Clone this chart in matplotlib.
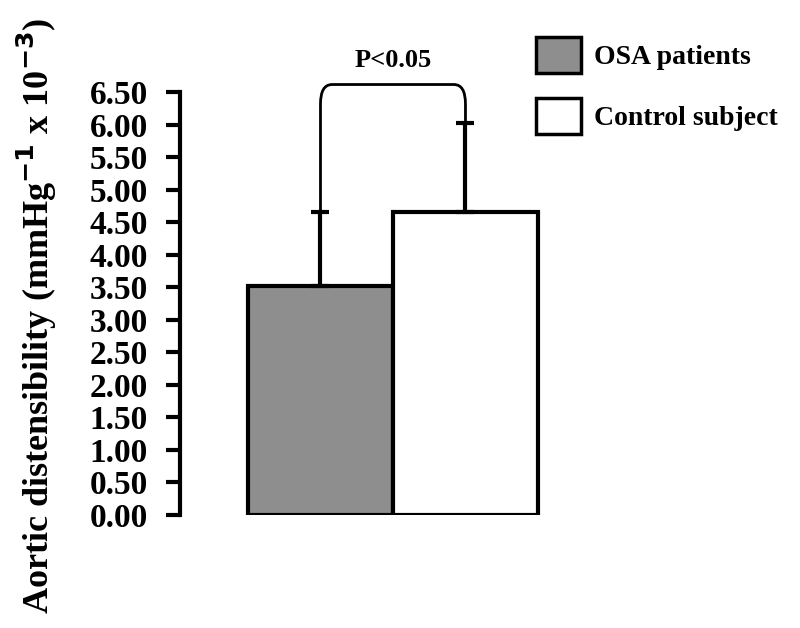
import matplotlib.pyplot as plt
import numpy as np
from matplotlib.path import Path
from matplotlib.patches import PathPatch

plt.rcParams['font.family'] = ['Liberation Serif', 'DejaVu Serif']
plt.rcParams['font.weight'] = 'bold'
plt.rcParams['mathtext.default'] = 'bf'

# Data
groups = ["OSA patients", "Control subject"]
means = [3.52, 4.66]
errors = [1.14, 1.37]
colors = ['#8e8e8e', 'white']
y_ticks = np.arange(0, 6.51, 0.5)
p_text = "P<0.05"

fig = plt.figure(figsize=(8, 6.28), dpi=100)
ax = fig.add_axes([180/800, 1 - 515/628, (560-180)/800, (515-92)/628])

x = np.arange(len(groups))
bars = ax.bar(x, means, width=1.0, color=colors, edgecolor='black', linewidth=3,
              label=groups, zorder=2)
ax.errorbar(x, means, yerr=[[0, 0], errors], fmt='none', ecolor='black',
            elinewidth=3, capsize=6.5, capthick=3, zorder=3)

ax.set_xlim(-0.969, 1.652)
ax.set_ylim(0, 6.5)
ax.set_yticks(y_ticks)
ax.set_yticklabels([f'{v:.2f}' for v in y_ticks], fontsize=24, fontweight='bold')
ax.tick_params(axis='y', direction='out', length=10, width=3, pad=13)
ax.set_xticks([])
for s in ['top', 'right', 'bottom']:
    ax.spines[s].set_visible(False)
ax.spines['left'].set_linewidth(3)

fig.text(37/800, 1 - 316/628, r'Aortic distensibility (mmHg$^{-1}$ x 10$^{-3}$)',
         fontsize=26, fontweight='bold', rotation=90, ha='center', va='center')

# significance bracket with rounded corners
top = 6.615
rx, ry = 0.08, 0.3
y0 = means[0] + errors[0]
y1 = means[1] + errors[1]
verts = [(x[0], y0), (x[0], top - ry), (x[0], top), (x[0] + rx, top),
         (x[1] - rx, top), (x[1], top), (x[1], top - ry), (x[1], y1)]
codes = [Path.MOVETO, Path.LINETO, Path.CURVE3, Path.CURVE3,
         Path.LINETO, Path.CURVE3, Path.CURVE3, Path.LINETO]
ax.add_patch(PathPatch(Path(verts, codes), fill=False, lw=2, edgecolor='black',
                       clip_on=False))
ax.text(0.5, 6.98, p_text, ha='center', va='center', fontsize=19,
        fontweight='bold', clip_on=False)

leg = ax.legend(loc='upper left', bbox_to_anchor=(536/800, 1 - 37/628),
                bbox_transform=fig.transFigure, frameon=False, fontsize=20,
                handlelength=1.62, handleheight=1.615, labelspacing=0.9,
                handletextpad=0.47, borderpad=0, borderaxespad=0)
for t in leg.get_texts():
    t.set_fontweight('bold')
for h in leg.legend_handles:
    h.set_linewidth(2.5)

plt.savefig('out.png', dpi=100)
